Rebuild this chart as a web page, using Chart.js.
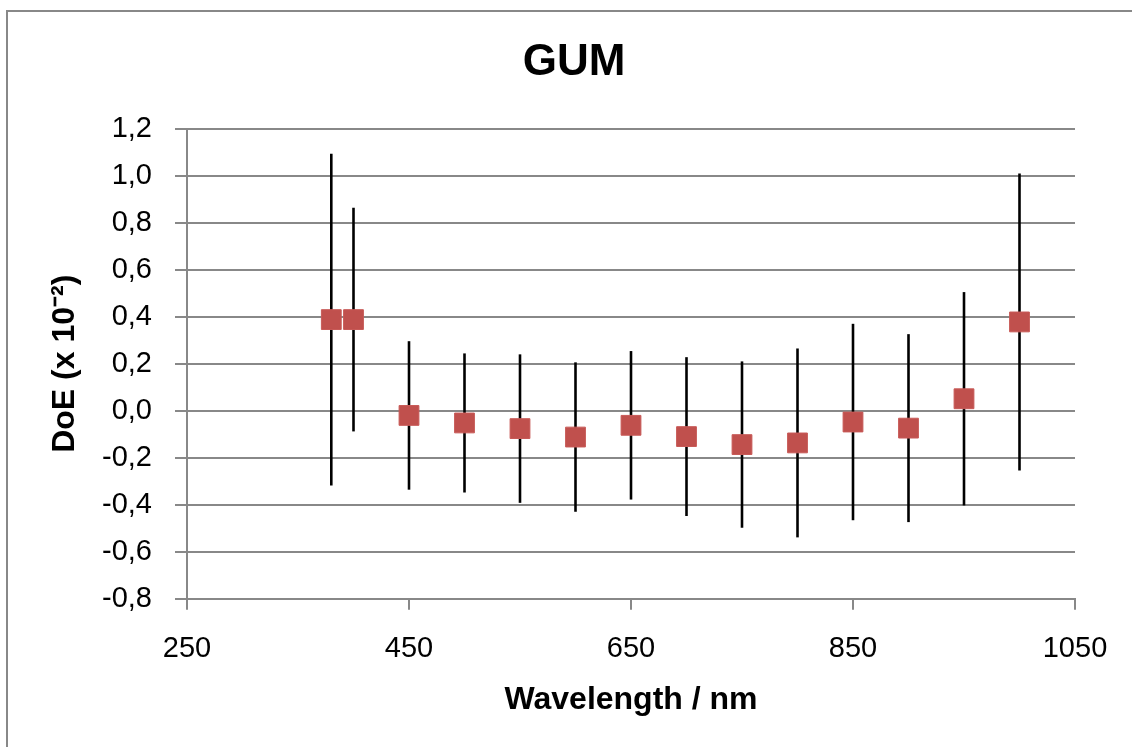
<!DOCTYPE html>
<html>
<head>
<meta charset="utf-8">
<script src="https://cdn.jsdelivr.net/npm/chart.js@4/dist/chart.umd.min.js"></script>
<style>
  html, body { margin: 0; padding: 0; background: #fff; overflow: hidden; }
  .wrap { position: relative; width: 1132px; height: 747px; }
  .frame { position: absolute; left: 6px; top: 10px; width: 1200px; height: 800px;
           border-left: 2px solid #888; border-top: 2px solid #888; }
  canvas { position: absolute; left: 0; top: 0; }
</style>
</head>
<body>
<div class="wrap">
  <div class="frame"></div>
  <canvas id="gumChart" width="1132" height="747"></canvas>
</div>
<script>
  // Wavelengths (nm), DoE values (x 10^-2) and their expanded uncertainties
  var wavelengths = [380, 400, 450, 500, 550, 600, 650, 700, 750, 800, 850, 900, 950, 1000];
  var doeValues = [0.388, 0.388, -0.020, -0.052, -0.076, -0.112, -0.062, -0.110, -0.144, -0.137, -0.048, -0.074, 0.051, 0.378];
  var doeUncert = [0.706, 0.476, 0.316, 0.296, 0.316, 0.318, 0.316, 0.338, 0.354, 0.402, 0.418, 0.400, 0.454, 0.632];
  var yTicks = [-0.8, -0.6, -0.4, -0.2, 0.0, 0.2, 0.4, 0.6, 0.8, 1.0, 1.2];
  var xTicks = [250, 450, 650, 850, 1050];

  var gridColor = '#888888';
  var fontFamily = "'Liberation Sans', Arial, sans-serif";

  // Vertical error bars, drawn under the markers
  var errorBars = {
    id: 'errorBars',
    beforeDatasetsDraw: function (chart) {
      var ctx = chart.ctx;
      var xs = chart.scales.x;
      var ys = chart.scales.y;
      ctx.save();
      ctx.strokeStyle = '#000';
      ctx.lineWidth = 2.6;
      wavelengths.forEach(function (wl, i) {
        var px = xs.getPixelForValue(wl);
        ctx.beginPath();
        ctx.moveTo(px, ys.getPixelForValue(doeValues[i] + doeUncert[i]));
        ctx.lineTo(px, ys.getPixelForValue(doeValues[i] - doeUncert[i]));
        ctx.stroke();
      });
      ctx.restore();
    }
  };

  var points = wavelengths.map(function (wl, i) {
    return { x: wl, y: doeValues[i] };
  });

  new Chart(document.getElementById('gumChart'), {
    type: 'scatter',
    data: {
      datasets: [{
        label: 'GUM',
        data: points,
        pointStyle: 'rect',
        pointRadius: 14,
        pointHoverRadius: 14,
        backgroundColor: '#C0504D',
        borderColor: '#C85A57',
        borderWidth: 1
      }]
    },
    options: {
      responsive: false,
      animation: false,
      // left padding chosen so the chart title sits centred where the original has it
      layout: { padding: { left: 73, right: 57, top: 0, bottom: 0 } },
      scales: {
        x: {
          type: 'linear',
          min: xTicks[0],
          max: xTicks[xTicks.length - 1],
          afterBuildTicks: function (scale) {
            scale.ticks = xTicks.map(function (v) { return { value: v }; });
          },
          afterFit: function (scale) { scale.height = 148.3; },
          grid: { drawOnChartArea: false, color: gridColor, lineWidth: 2, tickLength: 11 },
          border: { color: gridColor, width: 2 },
          ticks: {
            color: '#000',
            padding: 22,
            font: { family: fontFamily, size: 29 },
            callback: function (v) { return String(v); }
          },
          title: {
            display: true,
            text: 'Wavelength / nm',
            color: '#000',
            padding: { top: 0, bottom: 28 },
            font: { family: fontFamily, size: 32, weight: 'bold' }
          }
        },
        y: {
          min: yTicks[0],
          max: yTicks[yTicks.length - 1],
          afterBuildTicks: function (scale) {
            scale.ticks = yTicks.map(function (v) { return { value: v }; });
          },
          afterFit: function (scale) { scale.width = 114; },
          grid: { color: gridColor, lineWidth: 2, tickLength: 12 },
          border: { color: gridColor, width: 2 },
          ticks: {
            color: '#000',
            padding: 23,
            font: { family: fontFamily, size: 29 },
            callback: function (v) {
              if (Math.abs(v) < 1e-9) v = 0;
              return v.toFixed(1).replace('.', ',');
            }
          },
          title: {
            display: true,
            text: 'DoE (x 10\u207B\u00B2)',
            color: '#000',
            padding: { top: -27, bottom: 0 },
            font: { family: fontFamily, size: 32, weight: 'bold' }
          }
        }
      },
      plugins: {
        legend: { display: false },
        tooltip: { enabled: false },
        title: {
          display: true,
          text: 'GUM',
          color: '#000',
          padding: { top: 36, bottom: 40 },
          font: { family: fontFamily, size: 44, weight: 'bold' }
        }
      }
    },
    plugins: [errorBars]
  });
</script>
</body>
</html>
